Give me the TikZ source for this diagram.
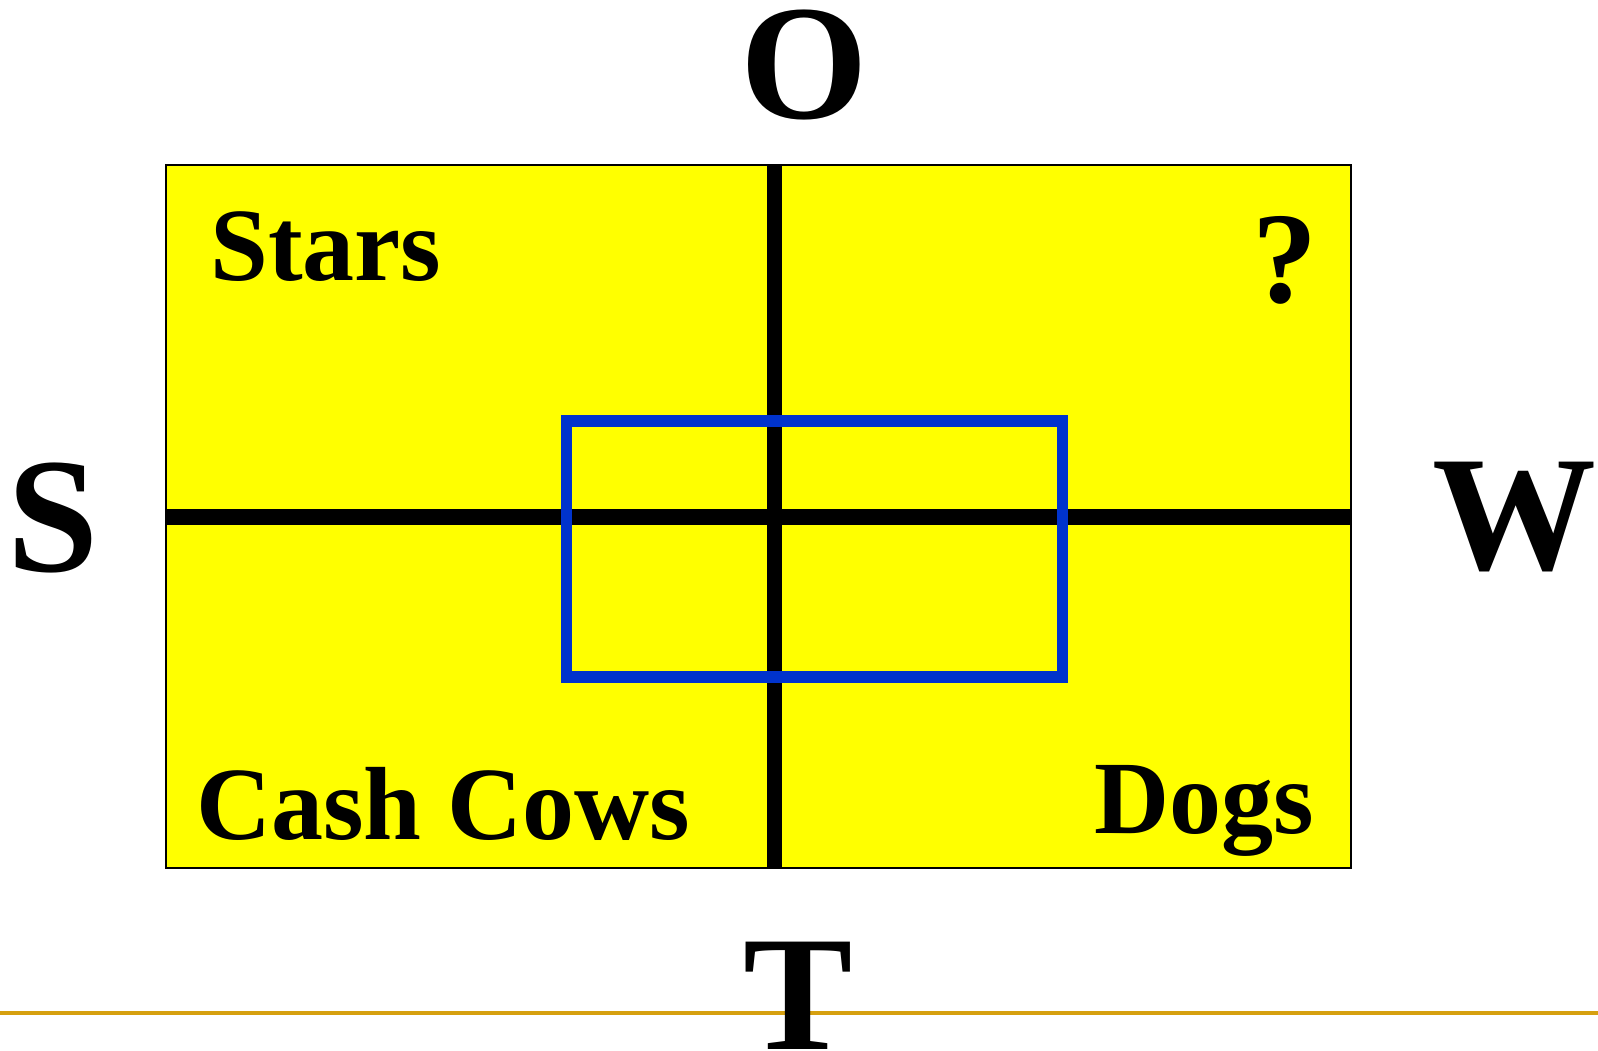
\documentclass[tikz,border=0pt]{standalone}
\usepackage{fontspec}
\setmainfont{Liberation Serif}
\definecolor{quadyellow}{RGB}{255,255,0}
\definecolor{focusblue}{RGB}{0,51,204}
\definecolor{rulegold}{RGB}{214,160,16}
\tikzset{
  biglabel/.style={inner sep=0pt, font=\bfseries\fontsize{164}{164}\selectfont},
  quadlabel/.style={inner sep=0pt, font=\bfseries\fontsize{104}{104}\selectfont},
  divider/.style={line width=15.5pt, black},
  focusbox/.style={draw=focusblue, line width=11.7pt}
}
\begin{document}
\begin{tikzpicture}[x=1pt,y=-1pt]
\useasboundingbox (0,0) rectangle (1598,1051);
% main matrix
\coordinate (tl) at (166,165);
\coordinate (br) at (1351,868);
\fill[quadyellow] (tl) rectangle (br);
\coordinate (vtop) at (774.5,165);
\coordinate (vbot) at (774.5,868);
\coordinate (hleft) at (166,517);
\coordinate (hright) at (1351,517);
\draw[divider] (vtop) -- (vbot);
\draw[divider] (hleft) -- (hright);
\draw[black, line width=2pt] (tl) rectangle (br);
% focus box
\coordinate (ftl) at (566.5,421);
\coordinate (fbr) at (1062.5,677);
\draw[focusbox] (ftl) rectangle (fbr);
% quadrant labels
\node[quadlabel, anchor=base west] (stars) at (210,280) {Stars};
\node[quadlabel, anchor=base, font=\bfseries\fontsize{130}{130}\selectfont] (qmark) at (1284.5,302) {?};
\node[quadlabel, anchor=base west] (cash) at (196,839) {Cash Cows};
\node[quadlabel, anchor=base west] (dogs) at (1094,833) {Dogs};
% bottom rule
\coordinate (rl) at (0,1013);
\coordinate (rr) at (1598,1013);
\draw[rulegold, line width=4pt] (rl) -- (rr);
% SWOT letters
\node[biglabel, anchor=base] (O) at (804,119) {O};
\node[biglabel, anchor=base] (S) at (53,571) {S};
\node[biglabel, anchor=base] (W) at (1514,569) {W};
\node[biglabel, anchor=base] (T) at (798,1049) {T};
\end{tikzpicture}
\end{document}
